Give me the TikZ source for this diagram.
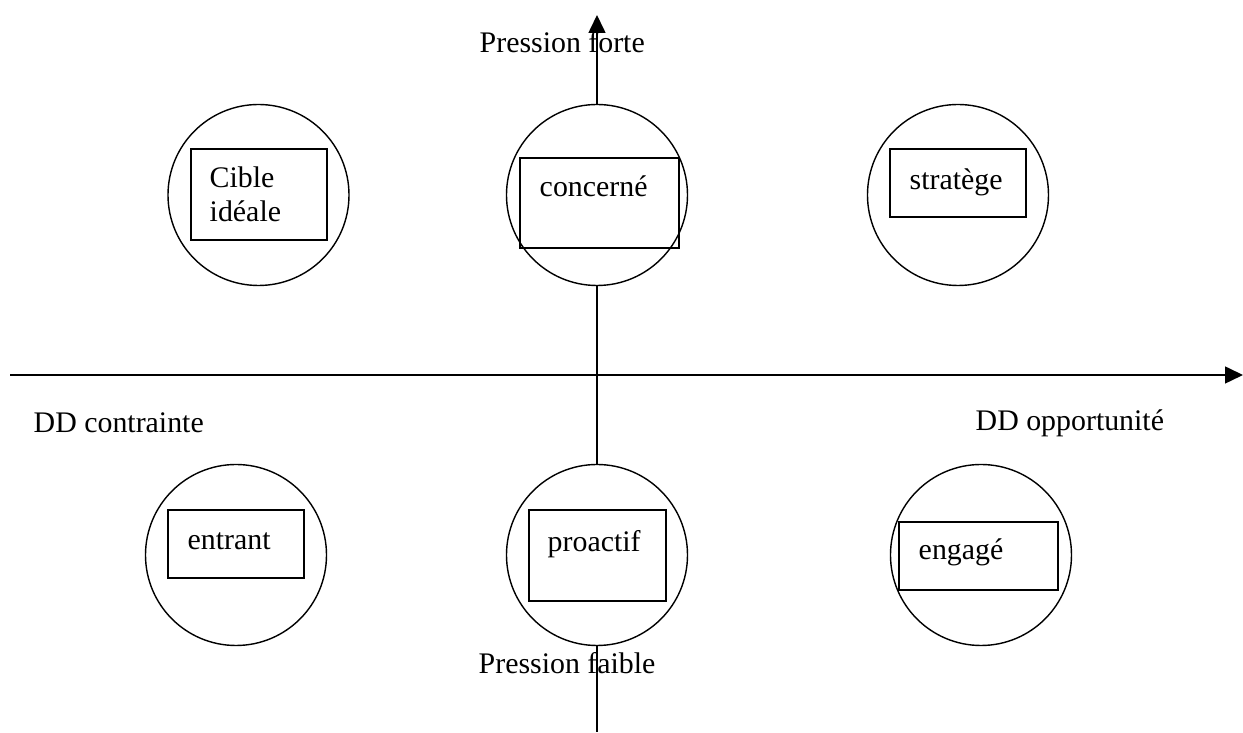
\documentclass[tikz,border=0pt]{standalone}
\usepackage{fontspec}
\setmainfont{Liberation Serif}
\usetikzlibrary{positioning,calc,arrows.meta}

\begin{document}
\begin{tikzpicture}[
    every node/.style={font=\fontsize{8.5pt}{9.4pt}\selectfont},
    axe/.style={line width=0.45pt, -{Triangle[length=0.18cm,width=0.17cm]}},
    rond/.style={draw, circle, fill=white, minimum size=1.81cm, inner sep=0pt},
    cadre/.style={draw, line width=0.55pt, inner sep=0pt},
    etiquette/.style={anchor=base west, inner sep=0pt, align=left}
]
    \useasboundingbox (0,0) rectangle (12.43,7.33);

    % Axes
    \coordinate (Ouest) at (0.10,3.58);
    \coordinate (Est) at (12.43,3.58);
    \coordinate (Sud) at (5.97,0.01);
    \coordinate (Nord) at (5.97,7.18);
    \draw[axe] (Ouest) -- (Est);
    \draw[axe] (Sud) -- (Nord);

    % Axis labels
    \node[etiquette] (Forte) at (4.79,6.80) {Pression forte};
    \node[etiquette] (Faible) at (4.78,0.59) {Pression faible};
    \node[etiquette] (Contrainte) at (0.33,3.00) {DD contrainte};
    \node[etiquette] (Opportunite) at (9.75,3.02) {DD opportunité};

    % Circles
    \node[rond] (C1) at (2.585,5.38) {};
    \node[rond] (C2) at (5.97,5.38) {};
    \node[rond] (C3) at (9.58,5.38) {};
    \node[rond] (C4) at (2.36,1.78) {};
    \node[rond] (C5) at (5.97,1.78) {};
    \node[rond] (C6) at (9.81,1.78) {};

    % Boxes
    \node[cadre, minimum width=1.36cm, minimum height=0.91cm] (B1) at (2.59,5.385) {};
    \node[cadre, minimum width=1.59cm, minimum height=0.90cm] (B2) at (5.995,5.30) {};
    \node[cadre, minimum width=1.36cm, minimum height=0.68cm] (B3) at (9.58,5.50) {};
    \node[cadre, minimum width=1.36cm, minimum height=0.68cm] (B4) at (2.36,1.89) {};
    \node[cadre, minimum width=1.37cm, minimum height=0.91cm] (B5) at (5.975,1.775) {};
    \node[cadre, minimum width=1.59cm, minimum height=0.68cm] (B6) at (9.785,1.77) {};

    % Texts
    \node[etiquette] (T1) at ($(B1.north west)+(0.19,-0.73)$) {Cible\\idéale};
    \node[etiquette] (T2) at ($(B2.north west)+(0.20,-0.39)$) {concerné};
    \node[etiquette] (T3) at ($(B3.north west)+(0.20,-0.41)$) {stratège};
    \node[etiquette] (T4) at ($(B4.north west)+(0.20,-0.40)$) {entrant};
    \node[etiquette] (T5) at ($(B5.north west)+(0.19,-0.42)$) {proactif};
    \node[etiquette] (T6) at ($(B6.north west)+(0.20,-0.38)$) {engagé};
\end{tikzpicture}
\end{document}
